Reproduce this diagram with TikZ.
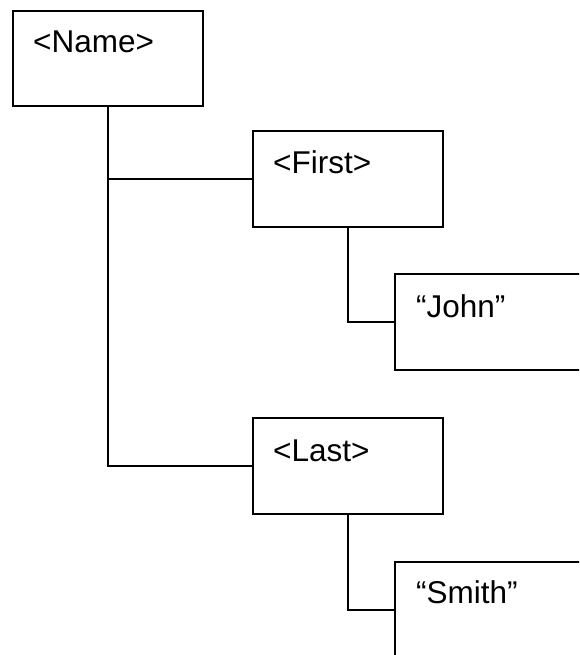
\documentclass[tikz,border=0pt]{standalone}
\usepackage{fontspec}
\setmainfont{Liberation Sans}
\begin{document}
\begin{tikzpicture}[x=1pt,y=-1pt,
  box/.style={draw=black,line width=2pt,fill=white,rectangle,inner sep=0pt,outer sep=0pt,anchor=north west,minimum width=190.5pt,minimum height=95.5pt},
  wide/.style={box,minimum width=205pt},
  lbl/.style={anchor=base west,inner sep=0pt,font=\fontsize{31.5}{36}\selectfont},
  conn/.style={line width=2pt}]
\useasboundingbox (0,0) rectangle (579,655);
\clip (0,0) rectangle (579,655);
\fill[white] (0,0) rectangle (579,655);
\node[box] (name) at (12.5,11) {};
\node[box] (first) at (252.5,131) {};
\node[wide] (john) at (395.3,274.3) {};
\node[box] (last) at (252.5,418.3) {};
\node[wide] (smith) at (395.3,562.3) {};
\node[lbl] (tname) at (33,53) {<Name>};
\node[lbl] (tfirst) at (273,173) {<First>};
\node[lbl] (tjohn) at (416,317) {“John”};
\node[lbl] (tlast) at (273,461) {<Last>};
\node[lbl] (tsmith) at (416,603) {“Smith”};
\draw[conn] (name.south) |- (first.west);
\draw[conn] (name.south) |- (last.west);
\draw[conn] (first.south) |- (john.west);
\draw[conn] (last.south) |- (smith.west);
\end{tikzpicture}
\end{document}
